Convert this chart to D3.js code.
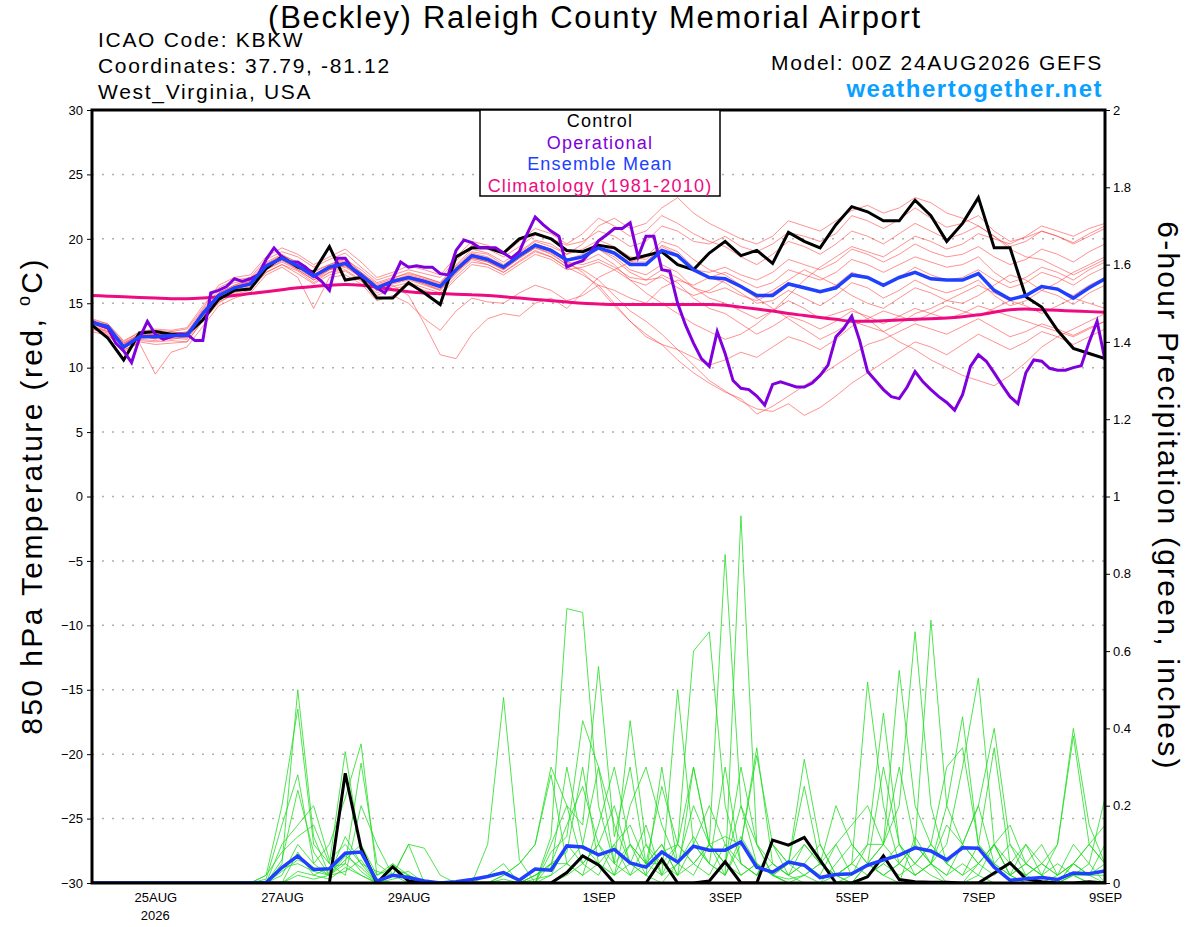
<!DOCTYPE html>
<html lang="en">
<head>
<meta charset="UTF-8"/>
<title>KBKW GEFS 850 hPa Temperature and Precipitation</title>
<script src="https://d3js.org/d3.v7.min.js"></script>
<style>
  body { margin: 0; background: #fff; }
  svg { font-family: "Liberation Sans", Arial, sans-serif; }
  .tick text { font-size: 13px; fill: #000; }
</style>
</head>
<body>
<script>
// run start and steps (hours)
var runStart = Date.UTC(2026, 7, 24, 0);
var runEnd = Date.UTC(2026, 8, 9, 0);

// x axis labels
var dayTicks = ["2026-08-25", "2026-08-27", "2026-08-29", "2026-09-01", "2026-09-03", "2026-09-05", "2026-09-07", "2026-09-09"];
var dayLabels = ["25AUG", "27AUG", "29AUG", "1SEP", "3SEP", "5SEP", "7SEP", "9SEP"];
var tempTicks = [-30, -25, -20, -15, -10, -5, 0, 5, 10, 15, 20, 25, 30];
var precipTicks = [0, 0.2, 0.4, 0.6, 0.8, 1, 1.2, 1.4, 1.6, 1.8, 2];

// 850 hPa temperature, 6-hourly (control, ensemble mean, climatology)
var controlT = [13.3,12.3,10.6,12.7,12.8,12.6,12.6,13.7,15.3,16.0,16.1,17.7,18.6,
  17.8,17.4,19.4,16.8,17.0,15.4,15.4,16.6,15.8,14.9,18.6,19.3,19.3,
  18.9,20.0,20.4,20.0,19.1,19.0,19.5,19.3,18.4,18.7,19.0,18.0,17.6,
  18.9,19.8,18.7,19.1,18.1,20.5,19.8,19.3,21.1,22.5,22.1,21.4,21.4,
  23.0,21.8,19.8,21.2,23.2,19.3,19.3,15.5,14.7,12.9,11.5,11.1,10.7];
var meanT = [13.5,13.2,11.6,12.4,12.4,12.5,12.5,14.2,15.6,16.2,16.5,17.9,18.5,
  17.9,17.1,17.8,18.1,17.2,16.2,16.7,17.0,16.7,16.3,17.6,18.7,18.4,
  17.8,18.7,19.5,19.1,18.35,18.6,19.3,18.9,18.0,18.0,19.1,18.7,17.6,
  17.0,16.9,16.3,15.6,15.6,16.5,16.2,15.9,16.2,17.2,17.0,16.4,17.0,
  17.4,16.9,16.8,16.8,17.3,16.0,15.3,15.6,16.3,16.1,15.4,16.2,16.9];
var climoT = [15.6,15.55,15.5,15.45,15.4,15.35,15.35,15.4,15.5,15.6,15.75,15.9,16.05,
  16.2,16.3,16.4,16.45,16.4,16.25,16.05,15.9,15.8,15.75,15.7,15.65,15.6,
  15.5,15.4,15.3,15.2,15.1,15.0,14.95,14.9,14.9,14.9,14.9,14.9,14.9,
  14.9,14.85,14.7,14.55,14.4,14.2,14.05,13.9,13.75,13.6,13.6,13.65,13.7,
  13.75,13.8,13.85,13.95,14.1,14.3,14.5,14.55,14.5,14.45,14.4,14.35,14.3];

// operational run, 3-hourly
var operT = [13.6,13.3,13.1,11.9,11.3,10.4,12.3,13.6,12.6,12.2,12.4,12.6,12.6,
  12.1,12.1,15.8,16.0,16.3,16.9,16.7,16.9,17.2,18.4,19.3,18.6,18.2,
  18.2,17.8,17.2,16.7,16.0,18.5,18.5,17.6,17.1,16.7,16.2,15.8,16.9,
  18.2,17.8,17.9,17.8,17.8,17.3,17.2,19.1,19.9,19.7,19.3,19.3,19.3,
  18.9,18.5,19.0,20.4,21.7,21.1,20.6,20.2,17.8,18.1,18.3,19.0,19.85,
  20.3,20.8,20.8,21.25,18.6,20.2,20.2,17.6,17.5,15.0,13.3,11.9,10.7,
  10.1,12.8,11.1,9.0,8.4,8.3,7.8,7.1,8.7,8.9,8.7,8.5,8.5,
  8.8,9.4,10.2,12.4,13.05,14.0,12.1,9.7,9.0,8.3,7.75,7.6,8.5,
  9.7,8.9,8.3,7.75,7.3,6.7,7.9,10.1,11.0,10.5,9.6,8.65,7.75,
  7.2,9.6,10.6,10.5,9.95,9.8,9.8,10.0,10.15,12.0,13.6,10.6];

// ensemble members, 850 hPa temperature, 6-hourly
var member01 = [13.8,13.4,12.0,12.8,13.0,12.9,13.1,14.8,16.2,16.8,17.0,18.4,19.0,18.6,17.8,18.4,18.9,17.8,16.8,17.2,17.6,17.3,17.0,18.3,19.5,19.2,18.6,19.4,20.3,20.0,19.5,19.8,20.6,20.2,19.4,19.8,21.0,20.6,19.8,19.6,20.2,19.4,19.0,19.6,20.5,20.2,19.8,20.4,21.8,21.4,20.8,21.5,22.4,21.6,20.9,21.2,21.8,20.6,19.8,20.1,20.6,20.2,19.7,20.4,21.0];
var member02 = [13.0,12.6,11.2,12.0,11.8,11.9,12.0,13.6,15.0,15.8,16.2,17.4,18.0,17.5,16.6,17.4,17.6,16.8,15.8,16.3,16.6,16.2,15.8,17.1,18.2,18.0,17.4,18.2,19.0,18.6,17.8,17.2,16.4,15.0,13.6,12.4,11.8,10.6,9.6,8.8,8.1,7.6,6.4,7.0,7.8,8.6,9.4,10.2,11.0,11.8,12.2,12.8,13.4,13.0,12.6,13.2,13.8,13.1,12.4,12.8,13.4,13.0,12.5,13.1,13.6];
var member03 = [13.4,13.0,11.8,12.6,12.2,12.8,12.6,14.4,15.8,16.4,16.9,18.2,18.8,18.1,17.5,18.0,18.5,17.4,16.5,16.9,17.4,17.0,16.6,18.0,19.2,18.9,18.2,19.0,19.9,19.6,18.8,19.2,19.9,19.4,18.6,18.4,19.5,19.0,17.8,17.0,16.6,15.8,15.0,15.2,16.0,15.4,14.8,15.6,16.6,16.2,15.4,16.0,16.8,16.2,15.8,16.2,16.8,15.6,14.8,15.2,16.0,15.6,14.9,15.8,16.4];
var member04 = [12.8,12.5,11.4,11.9,9.5,11.2,11.6,13.2,14.8,15.4,15.8,17.2,17.8,17.0,14.6,17.0,17.2,16.5,15.2,15.6,15.0,13.8,12.9,14.4,15.4,15.1,15.0,15.8,16.4,16.0,15.2,15.6,16.4,16.0,15.4,15.0,16.2,16.8,16.4,17.0,17.4,16.8,16.2,16.6,17.6,17.2,16.8,17.4,18.4,18.0,17.4,18.0,18.6,18.2,17.8,18.0,18.6,17.4,16.6,17.0,17.8,17.4,16.8,17.6,18.2];
var member05 = [13.2,12.9,11.7,12.3,12.4,12.2,12.4,14.0,15.4,16.0,16.3,17.6,18.2,17.6,16.8,17.4,17.8,17.0,16.0,16.4,15.6,13.4,11.0,10.7,12.6,13.8,14.2,14.0,15.0,15.4,14.6,15.8,17.0,17.6,18.2,18.6,19.8,19.4,18.4,17.6,17.2,16.4,15.4,14.6,13.8,13.0,12.2,12.8,13.6,13.2,12.8,13.4,14.2,14.6,15.2,15.8,16.4,15.8,15.2,15.6,16.4,16.0,15.6,16.4,17.0];
var member06 = [13.6,13.3,11.9,12.6,12.7,12.6,12.8,14.5,16.0,16.6,16.8,18.0,18.7,18.2,17.4,18.0,18.4,17.6,16.6,17.0,17.3,17.0,16.6,17.9,19.0,18.8,18.0,18.9,19.8,19.4,18.8,19.6,21.0,21.6,20.8,21.2,22.4,23.2,22.0,21.2,20.6,20.0,19.6,20.2,21.4,21.0,20.6,21.4,22.2,22.6,22.0,22.4,23.2,22.8,22.0,21.6,21.0,20.2,19.2,18.6,18.4,17.8,17.2,17.8,18.4];
var member07 = [13.1,12.8,11.5,12.2,12.1,12.3,12.2,13.8,15.3,15.9,16.2,17.6,18.3,17.7,16.9,17.6,17.9,17.1,16.1,16.6,16.9,16.5,16.1,17.4,18.5,18.2,17.6,18.5,19.3,18.9,18.0,17.6,16.8,15.6,14.4,13.6,12.6,11.4,10.2,9.0,8.2,7.4,6.8,6.6,7.2,6.3,6.9,7.8,8.8,9.6,10.4,11.2,12.0,11.6,11.0,11.8,12.6,12.0,11.4,12.0,12.8,12.4,11.8,12.4,13.0];
var member08 = [13.5,13.1,11.6,12.5,12.5,12.6,12.6,14.2,15.6,16.3,16.6,17.9,18.5,17.9,17.0,17.8,18.2,17.3,16.2,16.8,17.1,16.8,16.4,17.7,18.8,18.5,17.9,18.8,19.6,19.2,18.4,18.8,19.6,19.0,18.2,18.2,19.4,18.8,17.6,17.4,17.8,17.2,16.8,17.4,18.4,18.0,17.6,18.2,19.2,18.8,18.2,18.8,19.6,19.0,18.6,18.8,19.4,18.6,18.0,18.4,19.2,18.8,18.2,19.0,19.6];
var member09 = [13.3,13.0,11.5,12.4,12.3,12.4,12.3,14.1,15.5,16.1,16.4,17.8,18.4,17.8,17.1,17.7,18.0,17.2,16.2,16.7,17.0,16.6,16.2,17.5,18.6,18.3,17.7,18.6,19.4,19.0,18.2,17.4,16.2,14.8,13.6,12.6,11.8,11.4,10.8,10.2,10.6,11.2,10.8,11.6,12.4,12.0,11.4,12.2,13.2,13.8,14.4,14.0,13.6,14.2,14.8,14.4,14.0,14.6,15.2,14.8,14.2,14.8,15.4,15.0,14.6];
var member10 = [13.7,13.4,12.1,12.7,12.9,12.8,13.0,14.6,16.4,17.0,17.2,18.6,19.3,18.8,18.0,18.6,19.2,18.2,17.0,17.4,17.9,17.6,17.2,18.6,19.8,19.5,18.8,19.8,20.8,20.4,19.6,20.4,21.6,21.0,20.2,20.6,21.8,21.2,20.4,19.8,19.4,18.6,18.0,18.8,19.8,19.4,18.8,19.6,20.6,20.2,19.6,20.4,21.2,20.6,20.0,20.4,21.0,20.2,19.4,19.8,20.6,20.2,19.6,20.2,20.8];
var member11 = [13.0,12.7,11.3,12.1,12.0,12.1,12.0,13.7,15.1,15.7,16.0,17.4,18.0,17.3,16.5,17.2,17.5,16.7,15.6,16.1,16.4,16.0,15.6,16.9,18.0,17.8,17.2,18.0,18.8,18.4,17.6,17.8,18.2,17.6,16.8,16.4,17.2,16.6,15.4,14.6,14.2,13.4,12.6,13.2,14.0,13.6,13.0,13.6,14.4,14.0,13.4,14.0,14.6,14.2,13.8,14.2,14.8,14.4,14.0,13.6,13.2,12.8,12.4,13.0,13.6];
var member12 = [13.4,13.1,11.8,12.5,12.6,12.5,12.7,14.3,15.7,16.3,16.7,18.0,18.6,18.0,17.2,17.9,18.3,17.4,16.4,16.8,17.2,16.9,16.5,17.8,18.9,18.6,17.9,18.8,19.6,19.2,18.4,18.6,19.2,18.6,17.6,17.2,18.0,17.4,16.2,15.4,15.0,14.4,13.8,14.4,15.2,14.6,13.8,14.2,14.6,13.8,12.8,12.0,11.4,10.6,10.0,9.4,9.0,8.6,9.4,10.4,11.6,12.4,13.0,13.6,14.2];
var member13 = [13.6,13.2,11.9,12.6,12.5,12.7,12.6,14.3,15.8,16.4,16.7,18.1,18.7,18.0,17.2,17.9,18.2,17.3,16.3,16.8,17.1,16.8,16.4,17.7,18.8,18.4,17.8,18.7,19.5,19.1,18.2,18.0,18.4,17.8,17.0,16.8,17.6,17.0,16.2,15.8,16.2,15.6,15.2,15.8,16.6,16.2,15.8,16.4,17.4,17.0,16.4,17.0,17.8,17.2,16.8,17.0,17.6,16.8,16.2,16.6,17.4,17.0,16.4,17.2,17.8];
var member14 = [13.2,12.8,11.6,12.4,12.6,12.4,12.5,14.0,15.5,16.2,16.4,17.8,18.4,17.8,17.0,17.6,18.0,17.1,16.0,16.6,16.9,16.5,16.0,17.4,18.5,18.2,17.6,18.5,19.3,18.8,18.0,18.2,18.8,18.0,16.8,15.8,15.0,14.2,13.4,12.8,12.2,12.6,13.4,14.4,15.6,16.8,17.8,18.6,19.4,19.0,18.6,19.4,20.2,19.8,19.2,19.6,20.4,20.0,19.6,20.2,21.0,20.6,20.2,20.8,21.2];
var member15 = [13.4,13.0,11.7,12.4,12.3,12.6,12.4,14.1,15.6,16.2,16.5,17.8,18.4,17.6,16.8,17.6,17.9,17.0,16.0,16.5,16.8,16.4,16.0,17.3,18.4,18.0,17.4,18.3,19.1,18.6,17.8,18.4,19.2,18.4,17.4,16.8,17.0,16.2,15.6,16.0,16.8,16.2,15.4,16.0,16.8,17.6,17.0,16.4,15.6,15.0,14.6,15.4,16.2,15.8,15.2,15.0,15.6,16.4,17.2,16.8,16.0,16.6,17.4,18.0,18.6];
var tempMembers = [member01, member02, member03, member04, member05, member06, member07,
  member08, member09, member10, member11, member12, member13, member14, member15];

// 6-hour precipitation (inches)
var controlP = [0,0,0,0,0,0,0,0,0,0,0,0,0,
  0,0,0,0.284,0.09,0,0.042,0.005,0,0,0,0,0,
  0,0,0,0,0.027,0.07,0.047,0,0,0,0.061,0,0,
  0.005,0.055,0,0,0.111,0.098,0.118,0.059,0,0,0.016,0.07,0.009,
  0.003,0.002,0.002,0,0,0.026,0.052,0.011,0.003,0,0,0.003,0];
var meanP = [0,0,0,0,0,0,0,0,0,0,0,0.001,0.04,
  0.07,0.035,0.037,0.077,0.08,0.005,0.02,0.014,0.005,0,0.003,0.009,0.017,
  0.027,0.007,0.036,0.033,0.096,0.093,0.073,0.087,0.052,0.041,0.08,0.054,0.095,
  0.085,0.085,0.106,0.041,0.028,0.054,0.046,0.014,0.022,0.024,0.046,0.06,0.072,
  0.091,0.083,0.06,0.091,0.09,0.041,0.007,0.011,0.014,0.009,0.026,0.024,0.031];
var precip01 = [0,0,0,0,0,0,0,0,0,0,0,0,0.05,0.50,0.12,0.02,0.08,0.03,0,0,0,0,0,0,0,0.10,0.48,0.06,0,0.12,0.71,0.70,0.20,0.05,0.10,0.02,0,0.05,0.20,0.10,0.02,0.95,0.10,0.02,0,0,0,0,0,0.05,0.02,0,0.12,0.05,0,0,0.02,0,0,0,0,0,0.02,0,0];
var precip02 = [0,0,0,0,0,0,0,0,0,0,0,0.02,0.20,0.45,0.10,0.05,0.34,0.08,0.01,0,0,0,0,0,0,0,0.02,0.05,0.10,0.30,0.20,0.15,0.56,0.12,0.30,0.05,0.10,0.02,0.30,0.10,0.85,0.20,0.05,0.02,0,0,0,0,0.02,0.10,0.44,0.10,0.05,0.02,0,0,0.05,0.10,0.02,0,0,0,0.05,0.02,0];
var precip03 = [0,0,0,0,0,0,0,0,0,0,0,0.01,0.15,0.28,0.05,0.10,0.22,0.36,0.02,0.04,0.02,0,0,0,0,0,0,0,0.02,0.05,0.15,0.25,0.10,0.05,0.42,0.10,0.02,0.50,0.10,0.05,0.02,0.10,0.35,0.05,0.02,0,0,0.02,0.05,0.52,0.20,0.05,0.02,0.05,0.10,0.30,0.53,0.10,0.02,0,0,0,0.02,0,0];
var precip04 = [0,0,0,0,0,0,0,0,0,0,0,0,0.06,0.24,0.08,0.02,0.05,0.31,0.05,0.02,0.10,0.09,0.02,0,0,0,0.01,0,0,0.08,0.12,0.42,0.30,0.15,0.05,0.02,0.08,0.10,0.60,0.65,0.20,0.05,0.02,0.10,0.05,0.32,0.10,0.02,0,0.05,0.10,0.20,0.65,0.20,0.05,0.02,0.10,0.35,0.05,0.02,0.05,0.10,0.40,0.15,0.05];
var precip05 = [0,0,0,0,0,0,0,0,0,0,0,0,0.10,0.15,0.20,0.06,0.10,0.05,0.03,0.02,0.10,0,0,0,0,0.02,0.05,0,0.02,0.04,0.30,0.10,0.05,0.02,0.20,0.30,0.15,0.05,0.02,0.10,0.12,0.10,0.33,0.10,0.05,0.25,0.05,0.10,0.15,0.20,0.10,0.05,0.10,0.68,0.20,0.43,0.10,0.05,0.02,0.10,0.02,0,0.02,0.05,0.22];
var precip06 = [0,0,0,0,0,0,0,0,0,0,0,0,0.02,0.10,0.05,0.02,0.06,0.10,0.02,0.05,0.02,0,0,0,0,0,0,0,0.01,0.02,0.10,0.05,0.02,0.10,0.15,0.05,0.05,0.10,0.30,0.10,0.05,0.20,0.10,0.02,0.05,0.10,0.05,0.02,0.05,0.10,0.10,0.55,0.20,0.10,0.05,0.10,0.20,0.40,0.10,0.05,0.02,0.10,0.38,0.10,0.05];
var precip07 = [0,0,0,0,0,0,0,0,0,0,0,0,0.04,0.05,0.03,0.02,0.12,0.05,0,0.02,0.01,0,0,0,0,0,0,0,0,0.05,0.05,0.10,0.30,0.05,0.02,0.10,0.05,0.02,0.10,0.20,0.10,0.05,0.02,0.05,0.02,0.05,0.10,0.02,0,0.02,0.05,0.10,0.05,0.10,0.30,0.35,0.10,0.05,0.02,0.05,0.10,0.02,0.05,0.02,0.10];
var precip08 = [0,0,0,0,0,0,0,0,0,0,0,0,0,0.08,0.02,0.04,0.05,0.02,0,0.05,0,0,0,0,0,0,0,0,0,0.10,0.20,0.05,0.10,0.20,0.05,0.02,0.30,0.05,0.10,0.05,0.30,0.05,0.02,0.10,0.02,0.05,0.02,0.10,0.02,0.05,0.30,0.10,0.02,0.05,0.15,0.10,0.20,0.05,0.10,0.02,0.05,0.02,0.05,0.10,0.05];
var precip09 = [0,0,0,0,0,0,0,0,0,0,0,0,0,0.02,0.01,0.02,0.03,0.06,0,0,0,0,0,0,0,0,0,0,0,0,0.02,0.05,0.10,0.02,0.05,0.15,0.02,0.10,0.05,0.02,0.10,0.02,0.05,0.02,0,0.02,0.05,0.02,0.05,0.02,0.05,0.02,0.05,0.10,0.05,0.02,0.05,0.10,0.05,0.02,0,0.02,0.05,0.02,0.02];
var precip10 = [0,0,0,0,0,0,0,0,0,0,0,0,0.03,0.06,0.04,0.02,0.07,0.04,0,0.02,0.03,0,0,0,0,0,0,0,0.02,0.05,0.08,0.30,0.05,0.02,0.10,0.05,0.02,0.05,0.12,0.05,0.02,0.12,0.05,0.02,0.05,0.02,0,0.05,0.10,0.05,0.02,0.05,0.10,0.05,0.02,0.10,0.05,0.02,0.05,0.10,0.05,0.02,0.10,0.05,0];
var precip11 = [0,0,0,0,0,0,0,0,0,0,0,0,0,0.03,0.02,0.01,0.04,0.02,0,0.01,0.02,0,0,0,0,0,0,0,0,0.02,0.05,0.02,0.05,0.10,0.02,0.05,0.10,0.02,0.05,0.10,0.05,0.02,0.05,0.02,0.01,0.02,0.05,0.02,0.02,0.05,0.02,0.05,0.02,0.05,0.02,0.05,0.02,0.10,0.02,0.05,0.02,0.05,0.02,0.02,0.05];
var precip12 = [0,0,0,0,0,0,0,0,0,0,0,0.02,0.08,0.12,0.15,0.05,0.02,0.20,0.10,0.02,0,0,0,0,0,0,0.02,0.05,0.10,0.28,0.05,0.02,0.15,0.30,0.10,0.05,0.25,0.10,0.05,0.10,0.05,0.30,0.10,0.05,0.02,0.10,0.05,0.20,0.10,0.05,0.10,0.30,0.10,0.05,0.20,0.10,0.05,0.10,0.15,0.05,0.02,0,0.05,0.10,0.15];
var precipMembers = [precip01, precip02, precip03, precip04, precip05, precip06,
  precip07, precip08, precip09, precip10, precip11, precip12];

var legendItems = ["Control", "Operational", "Ensemble Mean", "Climatology (1981-2010)"];
var legendColors = ["#000000", "#8000dd", "#2040ff", "#ee0a80"];

var w = 1200, h = 927;
var plotLeft = 92, plotRight = 1105, plotTop = 110, plotBottom = 883;

var svg = d3.select("body").append("svg")
  .attr("width", w)
  .attr("height", h);

var xScale = d3.scaleUtc().domain([runStart, runEnd]).range([plotLeft, plotRight]);
var yTemp = d3.scaleLinear().domain([-30, 30]).range([plotBottom, plotTop]);
var yPrecip = d3.scaleLinear().domain([0, 2]).range([plotBottom, plotTop]);

function stepTime(i, hours) { return runStart + i * hours * 3600000; }

var line6 = function (scale) {
  return d3.line()
    .x(function (d, i) { return xScale(stepTime(i, 6)); })
    .y(function (d) { return scale(d); });
};
var line3 = d3.line()
  .x(function (d, i) { return xScale(stepTime(i, 3)); })
  .y(function (d) { return yTemp(d); });

svg.append("clipPath").attr("id", "plot")
  .append("rect").attr("x", plotLeft).attr("y", plotTop)
  .attr("width", plotRight - plotLeft).attr("height", plotBottom - plotTop);

// dotted grid lines
svg.append("g").selectAll("line")
  .data(tempTicks.slice(1, -1))
  .enter().append("line")
  .attr("x1", plotLeft).attr("x2", plotRight)
  .attr("y1", function (d) { return yTemp(d); })
  .attr("y2", function (d) { return yTemp(d); })
  .attr("stroke", "#b0b0b0")
  .attr("stroke-width", 1.5)
  .attr("stroke-dasharray", "2,8");

var plot = svg.append("g").attr("clip-path", "url(#plot)");

// ensemble members
plot.selectAll(".tmem").data(tempMembers).enter().append("path")
  .attr("class", "tmem")
  .attr("d", line6(yTemp))
  .attr("fill", "none")
  .attr("stroke", "#ff3b3b")
  .attr("stroke-opacity", 0.7)
  .attr("stroke-width", 0.8);

plot.selectAll(".pmem").data(precipMembers).enter().append("path")
  .attr("class", "pmem")
  .attr("d", line6(yPrecip))
  .attr("fill", "none")
  .attr("stroke", "#22dd22")
  .attr("stroke-width", 0.8);

// climatology
plot.append("path").datum(climoT)
  .attr("d", line6(yTemp).curve(d3.curveMonotoneX))
  .attr("fill", "none").attr("stroke", "#ee0a80").attr("stroke-width", 3);

// control
plot.append("path").datum(controlT)
  .attr("d", line6(yTemp))
  .attr("fill", "none").attr("stroke", "#000").attr("stroke-width", 3);
plot.append("path").datum(controlP)
  .attr("d", line6(yPrecip))
  .attr("fill", "none").attr("stroke", "#000").attr("stroke-width", 3);

// operational
plot.append("path").datum(operT)
  .attr("d", line3)
  .attr("fill", "none").attr("stroke", "#8000dd").attr("stroke-width", 3);

// ensemble mean
plot.append("path").datum(meanT)
  .attr("d", line6(yTemp))
  .attr("fill", "none").attr("stroke", "#2040ff").attr("stroke-width", 3.5);
plot.append("path").datum(meanP)
  .attr("d", line6(yPrecip))
  .attr("fill", "none").attr("stroke", "#2040ff").attr("stroke-width", 3.5);

// axes
var axL = svg.append("g").attr("transform", "translate(" + plotLeft + ",0)")
  .call(d3.axisLeft(yTemp).tickValues(tempTicks).tickSize(5).tickPadding(4));
var axR = svg.append("g").attr("transform", "translate(" + plotRight + ",0)")
  .call(d3.axisRight(yPrecip).tickValues(precipTicks).tickSize(5).tickPadding(3)
    .tickFormat(function (d) { return String(d); }));
var axB = svg.append("g").attr("transform", "translate(0," + plotBottom + ")")
  .call(d3.axisBottom(xScale)
    .tickValues(dayTicks.map(function (d) { return Date.parse(d + "T00:00:00Z"); }))
    .tickSize(0).tickPadding(10)
    .tickFormat(function (d, i) { return dayLabels[i]; }));
[axL, axR, axB].forEach(function (a) {
  a.select(".domain").remove();
  a.selectAll(".tick line").attr("stroke", "#000");
});

svg.append("text")
  .attr("x", xScale(Date.parse(dayTicks[0] + "T00:00:00Z")))
  .attr("y", 920)
  .attr("text-anchor", "middle")
  .attr("font-size", 13)
  .text("2026");

// frame
svg.append("rect")
  .attr("x", plotLeft).attr("y", plotTop)
  .attr("width", plotRight - plotLeft).attr("height", plotBottom - plotTop)
  .attr("fill", "none").attr("stroke", "#000").attr("stroke-width", 3);

// legend box
var lg = svg.append("g");
lg.append("rect").attr("x", 480).attr("y", plotTop).attr("width", 240).attr("height", 86)
  .attr("fill", "#fff").attr("stroke", "#000").attr("stroke-width", 1.5);
lg.selectAll("text").data(legendItems).enter().append("text")
  .attr("x", 600)
  .attr("y", function (d, i) { return 127 + i * 21.5; })
  .attr("text-anchor", "middle")
  .attr("font-size", 18)
  .attr("letter-spacing", 1.2)
  .attr("fill", function (d, i) { return legendColors[i]; })
  .text(function (d) { return d; });

// titles
svg.append("text").attr("x", 595).attr("y", 28).attr("text-anchor", "middle")
  .attr("font-size", 31).attr("letter-spacing", 1.7)
  .text("(Beckley) Raleigh County Memorial Airport");
var info = ["ICAO Code: KBKW", "Coordinates: 37.79, -81.12", "West_Virginia, USA"];
svg.selectAll(".info").data(info).enter().append("text")
  .attr("class", "info")
  .attr("x", 98).attr("y", function (d, i) { return 47 + i * 26; })
  .attr("font-size", 21).attr("letter-spacing", 1.7)
  .text(function (d) { return d; });
svg.append("text").attr("x", 1103).attr("y", 70).attr("text-anchor", "end")
  .attr("font-size", 21).attr("letter-spacing", 1.7)
  .text("Model: 00Z 24AUG2026 GEFS");
svg.append("text").attr("x", 1103).attr("y", 97).attr("text-anchor", "end")
  .attr("font-size", 24).attr("font-weight", "bold").attr("fill", "#0aa0ff")
  .attr("letter-spacing", 1.5)
  .text("weathertogether.net");

var yl = svg.append("text")
  .attr("transform", "translate(42,496) rotate(-90)")
  .attr("text-anchor", "middle").attr("font-size", 30).attr("letter-spacing", 2.4);
yl.append("tspan").text("850 hPa Temperature (red, ");
yl.append("tspan").attr("font-size", 18).attr("dy", -12).text("o");
yl.append("tspan").attr("dy", 12).text("C)");

svg.append("text")
  .attr("transform", "translate(1158,496) rotate(90)")
  .attr("text-anchor", "middle").attr("font-size", 30).attr("letter-spacing", 2.25)
  .text("6-hour Precipitation (green, inches)");
</script>
</body>
</html>
